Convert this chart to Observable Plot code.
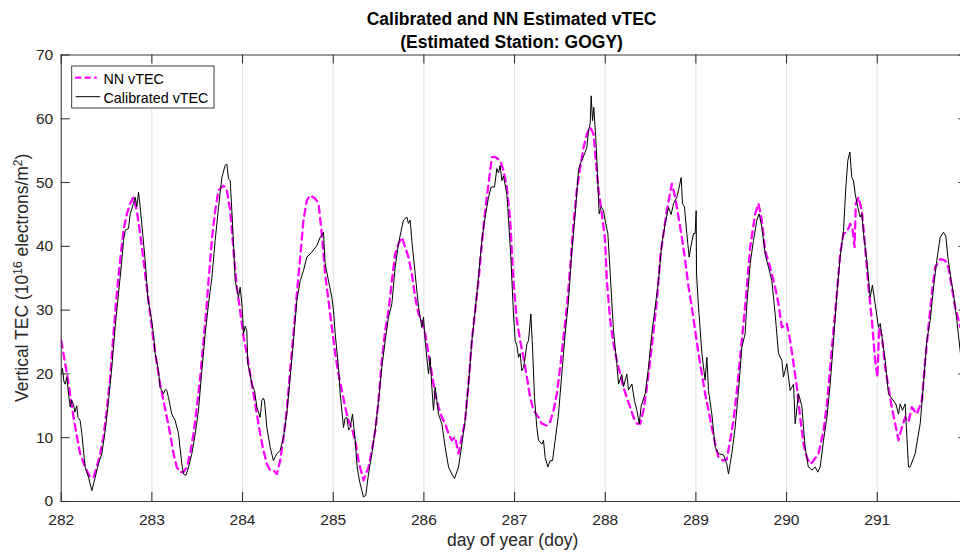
<!DOCTYPE html>
<html><head><meta charset="utf-8">
<script src="https://cdn.jsdelivr.net/npm/d3@7"></script>
<script src="https://cdn.jsdelivr.net/npm/@observablehq/plot@0.6"></script>
<style>html,body{margin:0;padding:0;overflow:hidden;background:#fff;}#chart{width:960px;height:555px;overflow:hidden;position:relative;}</style>
</head><body><div id="chart"></div>
<script>
// Calibrated vTEC: [day of year, TEC]
const calibratedVTEC = [
[282.000,20.0],[282.014,20.9],[282.030,18.8],[282.044,18.4],[282.062,19.5],[282.080,17.0],[282.099,14.8],[282.115,15.9],[282.136,15.2],[282.150,14.0],[282.172,15.0],[282.185,13.2],[282.209,12.7],[282.228,10.6],[282.264,5.4],[282.301,3.8],[282.338,1.7],[282.375,3.8],[282.411,5.9],[282.448,7.5],[282.485,11.1],[282.522,15.8],[282.558,21.0],[282.595,27.3],[282.632,32.6],[282.669,37.8],[282.687,40.9],[282.706,42.5],[282.742,42.8],[282.761,45.1],[282.797,46.7],[282.816,47.7],[282.834,46.2],[282.853,48.5],[282.871,46.2],[282.889,43.5],[282.926,37.8],[282.955,32.0],[282.992,28.9],
[283.018,26.3],[283.036,23.2],[283.073,20.5],[283.091,17.9],[283.128,16.9],[283.150,17.6],[283.165,17.4],[283.183,16.3],[283.220,13.7],[283.257,12.7],[283.294,10.6],[283.330,5.9],[283.349,4.3],[283.375,4.1],[283.404,5.4],[283.441,7.5],[283.478,10.6],[283.514,14.3],[283.551,20.5],[283.588,26.3],[283.625,31.0],[283.661,35.0],[283.698,40.9],[283.735,46.1],[283.772,50.8],[283.808,52.7],[283.827,52.9],[283.845,50.6],[283.864,50.3],[283.882,45.6],[283.901,40.4],[283.919,34.6],[283.940,33.2],[283.955,32.0],[283.974,33.6],[283.992,31.0],
[284.000,29.5],[284.011,26.3],[284.030,27.5],[284.047,26.8],[284.058,21.6],[284.084,20.0],[284.102,18.4],[284.132,17.4],[284.158,14.8],[284.194,13.2],[284.213,15.8],[284.230,16.2],[284.242,15.8],[284.268,11.6],[284.305,8.5],[284.341,6.4],[284.360,7.0],[284.378,7.5],[284.415,8.0],[284.452,10.1],[284.488,13.7],[284.525,19.5],[284.562,25.2],[284.599,31.5],[284.636,34.6],[284.672,36.2],[284.709,38.3],[284.764,39.1],[284.819,40.1],[284.856,41.4],[284.893,42.2],[284.911,37.3],[284.948,34.6],[284.985,32.0],
[285.003,30.0],[285.022,26.3],[285.058,21.0],[285.077,16.9],[285.114,11.6],[285.130,13.0],[285.150,13.2],[285.170,11.2],[285.187,11.6],[285.213,13.7],[285.242,9.6],[285.264,5.4],[285.290,3.2],[285.316,1.7],[285.334,0.7],[285.360,1.0],[285.389,4.3],[285.426,7.5],[285.463,11.1],[285.500,15.8],[285.536,21.0],[285.573,25.2],[285.610,28.9],[285.647,31.0],[285.683,36.7],[285.720,40.4],[285.750,42.5],[285.775,44.1],[285.812,44.6],[285.830,43.6],[285.849,44.1],[285.867,40.9],[285.904,35.7],[285.941,30.5],[285.977,27.3],[285.996,28.9],
[286.014,25.2],[286.051,20.0],[286.069,22.6],[286.088,17.9],[286.106,14.3],[286.124,17.9],[286.161,13.7],[286.198,12.2],[286.235,8.5],[286.272,5.4],[286.308,4.3],[286.338,3.6],[286.382,5.4],[286.419,9.0],[286.455,12.7],[286.492,18.4],[286.529,25.2],[286.566,29.9],[286.602,35.2],[286.639,40.9],[286.676,44.6],[286.713,47.7],[286.742,49.3],[286.779,49.3],[286.805,52.2],[286.823,51.5],[286.841,52.7],[286.860,50.3],[286.878,51.0],[286.915,48.2],[286.934,44.1],[286.960,38.0],[286.988,29.4],
[287.007,25.2],[287.025,24.5],[287.044,22.6],[287.062,23.2],[287.080,20.5],[287.099,21.0],[287.117,22.6],[287.136,24.7],[287.154,25.2],[287.180,29.4],[287.198,24.2],[287.220,16.3],[287.246,11.6],[287.264,9.6],[287.301,9.0],[287.319,9.6],[287.338,6.9],[287.367,5.4],[287.393,6.4],[287.419,6.4],[287.448,9.6],[287.485,13.7],[287.521,20.0],[287.558,26.3],[287.595,31.5],[287.632,39.3],[287.669,45.1],[287.705,51.9],[287.724,52.9],[287.742,53.5],[287.772,54.5],[287.797,55.5],[287.816,58.2],[287.834,59.2],[287.845,63.6],[287.860,59.7],[287.874,61.8],[287.896,57.0],[287.918,50.3],[287.933,45.1],[287.955,46.2],[287.981,45.6],[287.999,44.1],
[288.029,42.0],[288.055,35.7],[288.091,26.8],[288.128,21.6],[288.147,18.4],[288.183,19.9],[288.202,18.0],[288.238,20.0],[288.257,17.5],[288.294,18.4],[288.323,15.8],[288.349,14.3],[288.375,12.2],[288.397,15.0],[288.441,16.9],[288.477,21.0],[288.514,26.3],[288.551,30.5],[288.588,34.6],[288.624,40.4],[288.661,43.5],[288.698,46.1],[288.727,45.0],[288.753,46.7],[288.790,47.7],[288.816,49.3],[288.838,50.8],[288.852,46.7],[288.874,46.2],[288.900,42.0],[288.926,38.3],[288.944,39.9],[288.974,42.0],[288.992,42.0],
[289.003,45.6],[289.007,35.7],[289.029,30.5],[289.066,23.2],[289.102,19.0],[289.121,22.6],[289.139,17.4],[289.176,13.7],[289.213,8.5],[289.250,7.5],[289.305,7.3],[289.341,5.9],[289.360,4.3],[289.396,7.5],[289.433,11.6],[289.470,17.4],[289.507,24.2],[289.543,26.3],[289.562,31.0],[289.599,37.3],[289.635,40.9],[289.672,44.1],[289.698,45.1],[289.727,43.0],[289.764,38.8],[289.801,36.7],[289.838,34.6],[289.874,29.4],[289.911,23.2],[289.948,22.1],[289.966,19.5],
[290.003,21.6],[290.040,17.4],[290.077,18.4],[290.095,12.2],[290.132,16.9],[290.168,15.0],[290.205,8.5],[290.240,5.4],[290.264,5.2],[290.279,4.9],[290.316,5.4],[290.345,4.6],[290.371,5.4],[290.408,9.6],[290.445,13.2],[290.481,18.4],[290.518,25.2],[290.555,32.6],[290.591,38.3],[290.628,42.5],[290.654,49.3],[290.676,53.5],[290.698,54.8],[290.720,50.8],[290.738,50.3],[290.757,48.2],[290.786,46.1],[290.812,44.6],[290.830,45.1],[290.849,42.0],[290.885,37.8],[290.922,32.0],[290.947,33.9],[290.977,31.0],
[291.014,27.3],[291.033,27.9],[291.058,25.2],[291.088,22.1],[291.124,16.9],[291.143,16.5],[291.168,16.0],[291.205,15.3],[291.235,13.7],[291.253,15.3],[291.279,14.3],[291.308,15.3],[291.345,5.4],[291.363,5.4],[291.418,7.5],[291.474,12.2],[291.510,18.4],[291.547,25.2],[291.584,28.4],[291.621,33.6],[291.657,37.8],[291.694,41.4],[291.731,42.2],[291.757,41.6],[291.779,38.3],[291.816,34.6],[291.841,32.6],[291.878,28.4],[291.918,23.2]
];

// NN estimated vTEC: [day of year, TEC]
const nnVTEC = [
[282.000,25.2],[282.044,21.6],[282.081,18.5],[282.136,13.2],[282.172,10.3],[282.209,7.5],[282.264,5.4],[282.319,3.8],[282.356,3.8],[282.393,5.4],[282.430,7.5],[282.466,10.1],[282.503,14.3],[282.540,19.5],[282.577,26.3],[282.613,32.6],[282.650,37.8],[282.687,42.5],[282.724,45.1],[282.761,46.7],[282.797,47.7],[282.834,45.6],[282.871,42.0],[282.908,37.8],[282.944,33.6],[282.981,29.4],
[283.018,25.2],[283.055,21.6],[283.091,18.4],[283.128,15.8],[283.165,13.2],[283.202,10.6],[283.239,7.5],[283.275,5.4],[283.312,4.6],[283.349,4.6],[283.386,5.4],[283.422,7.5],[283.459,10.6],[283.496,14.8],[283.533,19.5],[283.570,25.2],[283.606,31.0],[283.625,34.6],[283.661,40.9],[283.698,45.6],[283.735,48.8],[283.790,49.5],[283.827,48.8],[283.864,45.6],[283.901,39.3],[283.937,33.6],[283.974,29.9],
[284.011,25.8],[284.047,23.2],[284.084,20.0],[284.121,16.9],[284.158,13.7],[284.194,10.6],[284.231,8.0],[284.268,5.9],[284.305,4.9],[284.341,4.9],[284.378,4.3],[284.415,6.4],[284.452,10.1],[284.488,14.3],[284.525,20.5],[284.562,26.3],[284.599,32.6],[284.636,38.3],[284.672,44.1],[284.709,47.2],[284.746,48.0],[284.801,47.5],[284.838,46.7],[284.874,42.0],[284.911,35.7],[284.948,31.5],[284.985,27.3],
[285.022,23.2],[285.058,20.0],[285.095,17.4],[285.132,14.8],[285.169,12.7],[285.205,11.5],[285.242,9.6],[285.279,6.4],[285.334,3.3],[285.389,5.4],[285.426,8.0],[285.463,11.1],[285.500,15.8],[285.536,22.1],[285.573,26.8],[285.610,29.9],[285.647,34.6],[285.683,38.8],[285.720,40.4],[285.757,41.4],[285.794,39.9],[285.830,38.3],[285.867,35.7],[285.904,32.0],[285.941,29.4],[285.977,28.4],
[286.014,26.3],[286.051,23.2],[286.088,20.0],[286.124,16.9],[286.161,14.8],[286.198,13.2],[286.235,12.2],[286.272,10.6],[286.308,9.6],[286.345,10.1],[286.382,7.5],[286.419,10.1],[286.455,12.7],[286.492,18.4],[286.529,25.2],[286.566,30.0],[286.602,34.6],[286.639,40.4],[286.676,45.6],[286.713,49.8],[286.750,54.0],[286.786,54.0],[286.841,53.5],[286.878,51.9],[286.915,49.3],[286.952,44.1],[286.988,34.6],
[287.025,28.4],[287.062,25.2],[287.099,22.6],[287.136,19.5],[287.172,16.3],[287.209,14.3],[287.264,13.2],[287.301,12.2],[287.356,11.9],[287.393,12.5],[287.430,14.3],[287.467,16.9],[287.503,21.0],[287.540,25.8],[287.577,30.5],[287.614,36.7],[287.650,43.5],[287.687,48.8],[287.724,52.4],[287.761,55.5],[287.797,57.6],[287.834,58.7],[287.871,57.6],[287.896,53.5],[287.926,48.8],[287.963,45.1],[287.999,40.9],
[288.018,34.6],[288.055,28.4],[288.091,24.7],[288.128,22.1],[288.165,20.0],[288.202,17.9],[288.238,16.3],[288.275,14.8],[288.312,13.2],[288.349,12.2],[288.386,12.2],[288.422,14.3],[288.459,17.9],[288.496,22.1],[288.533,26.8],[288.570,31.5],[288.610,38.8],[288.679,45.6],[288.735,49.8],[288.772,47.7],[288.808,44.6],[288.845,41.4],[288.882,37.8],[288.919,33.6],[288.955,30.5],[288.992,26.8],
[289.029,23.2],[289.066,20.0],[289.102,16.9],[289.139,14.3],[289.176,11.6],[289.213,9.0],[289.250,6.9],[289.305,6.4],[289.341,6.6],[289.378,9.6],[289.415,12.7],[289.452,17.4],[289.488,22.6],[289.525,27.9],[289.562,33.6],[289.599,39.9],[289.654,45.1],[289.690,46.7],[289.727,44.1],[289.764,39.3],[289.819,36.7],[289.874,33.6],[289.911,31.0],[289.948,27.3],
[290.003,27.9],[290.040,25.2],[290.077,21.6],[290.114,17.9],[290.150,13.2],[290.187,9.0],[290.224,6.9],[290.264,5.9],[290.297,6.4],[290.352,7.5],[290.408,11.1],[290.445,15.3],[290.481,21.0],[290.518,26.8],[290.555,32.6],[290.591,38.8],[290.628,42.0],[290.665,42.2],[290.702,43.5],[290.728,42.8],[290.750,39.9],[290.764,46.7],[290.794,47.7],[290.830,45.6],[290.867,39.9],[290.904,33.6],[290.941,28.4],[290.977,22.1],
[291.003,19.5],[291.021,27.3],[291.051,26.0],[291.088,21.0],[291.124,17.9],[291.161,14.8],[291.198,12.2],[291.235,9.6],[291.271,11.6],[291.308,13.2],[291.345,12.5],[291.382,14.8],[291.437,13.7],[291.492,15.8],[291.529,22.1],[291.565,27.3],[291.602,32.6],[291.639,36.7],[291.694,38.0],[291.749,37.8],[291.786,36.7],[291.823,33.6],[291.859,30.5],[291.918,27.3]
];

const xTicks = [282, 283, 284, 285, 286, 287, 288, 289, 290, 291];
const yTicks = [0, 10, 20, 30, 40, 50, 60, 70];
const titleLines = ["Calibrated and NN Estimated vTEC", "(Estimated Station: GOGY)"];
const xLabel = "day of year (doy)";
const seriesNames = ["NN vTEC", "Calibrated vTEC"];

const cal = calibratedVTEC.map(([doy, tec]) => ({doy, tec}));
const nn = nnVTEC.map(([doy, tec]) => ({doy, tec}));

const W = 968, H = 555, ML = 60.7, MR = 0.6, MT = 54.5, MB = 54;
const fw = W - ML - MR, fh = H - MT - MB;
const axisColor = "#262626";
const font = "'Liberation Sans', Arial, Helvetica, sans-serif";
const NN_COLOR = "#ff00ff";

const chart = Plot.plot({
  width: W, height: H,
  marginLeft: ML, marginRight: MR, marginTop: MT, marginBottom: MB,
  style: {fontFamily: font, background: "white", maxWidth: "none", overflow: "visible"},
  x: {domain: [282, 292]},
  y: {domain: [0, 70]},
  marks: [
    Plot.ruleX(xTicks, {x: d => d, stroke: "#dfdfdf", strokeWidth: 1}),
    Plot.line(nn, {x: "doy", y: "tec", stroke: NN_COLOR, strokeWidth: 2.3, strokeDasharray: "7,5", clip: true}),
    Plot.line(cal, {x: "doy", y: "tec", stroke: "#000", strokeWidth: 1, clip: true}),
    Plot.frame({stroke: axisColor, strokeWidth: 0.9}),
    Plot.tickX(xTicks, {x: d => d, stroke: axisColor, insetTop: fh - 9}),
    Plot.tickX(xTicks, {x: d => d, stroke: axisColor, insetBottom: fh - 9}),
    Plot.tickY(yTicks, {y: d => d, stroke: axisColor, insetRight: fw - 9}),
    Plot.tickY(yTicks, {y: d => d, stroke: axisColor, insetLeft: fw - 9}),
    Plot.axisX(xTicks, {tickSize: 0, tickPadding: 12, fontSize: 15.5, color: axisColor, label: null}),
    Plot.axisY(yTicks, {tickSize: 0, tickPadding: 8, fontSize: 15.5, color: axisColor, label: null}),
    Plot.text([xLabel], {frameAnchor: "bottom", dy: 44.5, dx: -2, lineAnchor: "bottom", fontSize: 17.5, fill: axisColor}),
    Plot.text([titleLines[0]], {frameAnchor: "top", dy: -30.5, dx: -3, lineAnchor: "bottom", fontSize: 17.5, fontWeight: "bold", fill: "#000"}),
    Plot.text([titleLines[1]], {frameAnchor: "top", dy: -7.5, dx: -3, lineAnchor: "bottom", fontSize: 17.5, fontWeight: "bold", fill: "#000"})
  ]
});

document.getElementById("chart").appendChild(chart);

// Y axis label with superscripts
const svg = d3.select(chart);
const ys = chart.scale("y");
const yc = (ys.apply(0) + ys.apply(70)) / 2;
const yl = svg.append("text")
  .attr("transform", `translate(28,${yc}) rotate(-90)`)
  .attr("text-anchor", "middle")
  .attr("font-family", font).attr("font-size", 17.5).attr("fill", axisColor);
yl.append("tspan").text("Vertical TEC (10");
yl.append("tspan").attr("dy", -6).attr("font-size", 12).text("16");
yl.append("tspan").attr("dy", 6).text(" electrons/m");
yl.append("tspan").attr("dy", -6).attr("font-size", 12).text("2");
yl.append("tspan").attr("dy", 6).text(")");

// Legend
const xs = chart.scale("x");
const lx = xs.apply(282) + 11, ly = ys.apply(70) + 11.5;
const lg = svg.append("g").attr("font-family", font).attr("font-size", 14.3).attr("text-anchor", "start");
lg.append("rect").attr("x", lx).attr("y", ly).attr("width", 142.3).attr("height", 42)
  .attr("fill", "white").attr("stroke", axisColor).attr("stroke-width", 0.9);
lg.append("line").attr("x1", lx + 3.5).attr("x2", lx + 25).attr("y1", ly + 11.7).attr("y2", ly + 11.7)
  .attr("stroke", NN_COLOR).attr("stroke-width", 2.3).attr("stroke-dasharray", "6,3.5");
lg.append("text").attr("x", lx + 31.8).attr("y", ly + 17.5).attr("text-anchor", "start").attr("fill", "#000").text(seriesNames[0]);
lg.append("line").attr("x1", lx + 4).attr("x2", lx + 28.5).attr("y1", ly + 30.7).attr("y2", ly + 30.7)
  .attr("stroke", "#000").attr("stroke-width", 1);
lg.append("text").attr("x", lx + 31.8).attr("y", ly + 36.5).attr("text-anchor", "start").attr("fill", "#000").text(seriesNames[1]);
</script>
</body></html>
